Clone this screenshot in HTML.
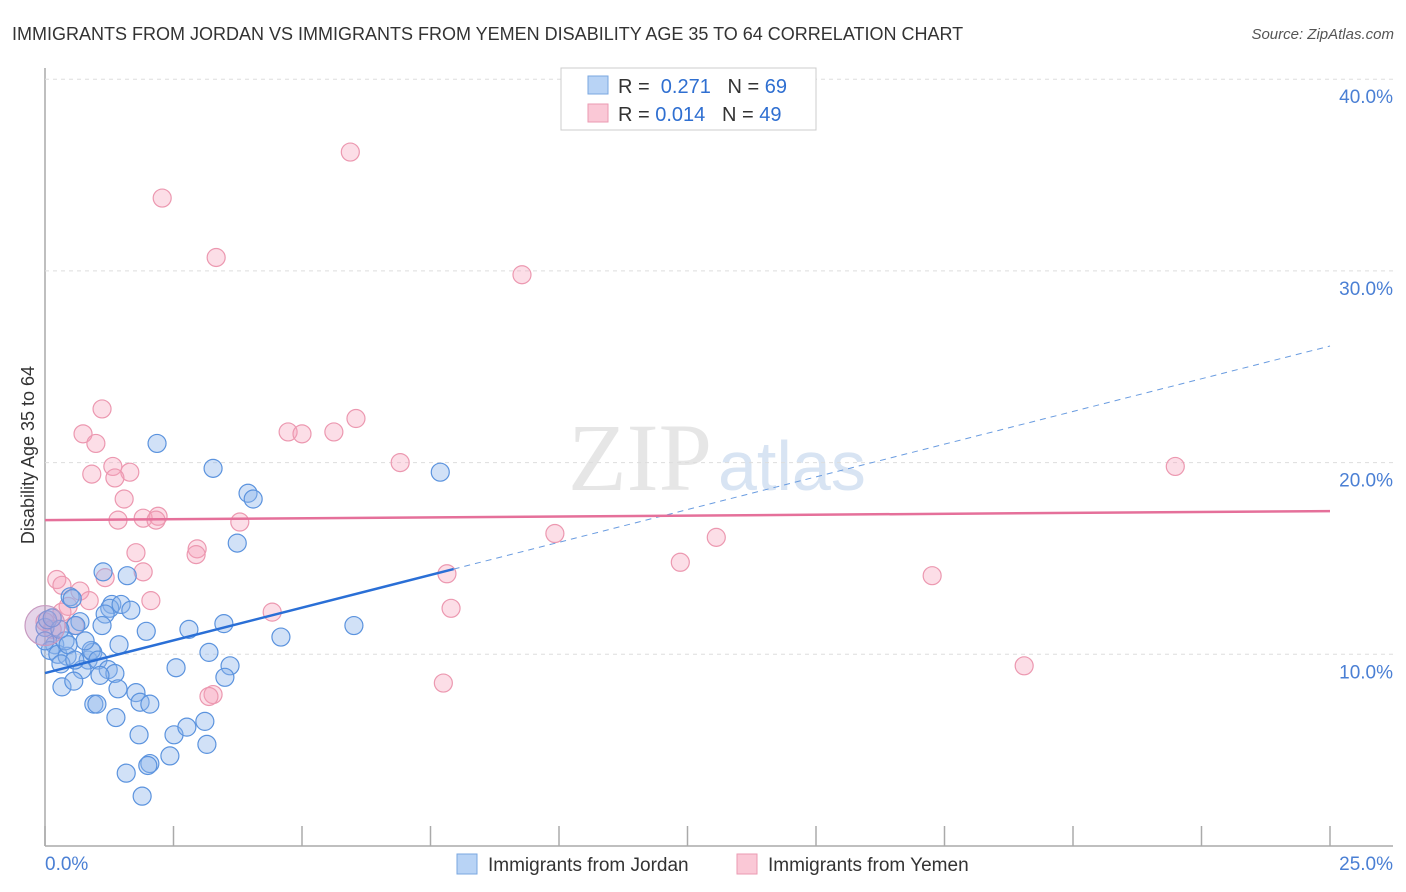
<!DOCTYPE html>
<html><head><meta charset="utf-8"><style>
body{margin:0;background:#fff;font-family:"Liberation Sans",sans-serif}
</style></head><body>
<svg id="c" width="1406" height="892" style="display:block">
<text x="12" y="40" font-size="18" fill="#333">IMMIGRANTS FROM JORDAN VS IMMIGRANTS FROM YEMEN DISABILITY AGE 35 TO 64 CORRELATION CHART</text>
<text x="1394" y="39" font-size="15" fill="#555" font-style="italic" text-anchor="end">Source: ZipAtlas.com</text>
<text x="712" y="490" font-size="96" fill="#e6e6e6" text-anchor="end" font-family="Liberation Serif">ZIP</text>
<text x="718" y="490" font-size="70" fill="#d8e4f3">atlas</text>
<text transform="translate(34,455) rotate(-90)" font-size="18" fill="#333" text-anchor="middle">Disability Age 35 to 64</text>
<g id="grid"></g><g id="pts"></g><g id="lines"></g>
<g>
<rect x="561" y="68" width="255" height="62" fill="#fff" stroke="#ccc"/>
<rect x="588" y="76" width="20" height="18" fill="#b8d3f5" stroke="#7aa7e0"/>
<rect x="588" y="104" width="20" height="18" fill="#fac8d6" stroke="#eb9ab2"/>
<text x="618" y="93" font-size="20" fill="#333">R = <tspan fill="#2f6fd1">&#160;0.271</tspan>&#160;&#160;&#160;N = <tspan fill="#2f6fd1">69</tspan></text>
<text x="618" y="121" font-size="20" fill="#333">R = <tspan fill="#2f6fd1">0.014</tspan>&#160;&#160;&#160;N = <tspan fill="#2f6fd1">49</tspan></text>
</g>
<g>
<rect x="457" y="854" width="20" height="20" fill="#b8d3f5" stroke="#7aa7e0"/>
<text x="488" y="871" font-size="19" fill="#333">Immigrants from Jordan</text>
<rect x="737" y="854" width="20" height="20" fill="#fac8d6" stroke="#eb9ab2"/>
<text x="768" y="871" font-size="19" fill="#333">Immigrants from Yemen</text>
</g>
</svg>
<script>
const jordanX=[2.18,3.27,7.69,3.95,4.05,3.74,1.13,1.60,0.49,1.30,1.26,1.48,1.67,1.17,0.68,0.60,1.11,1.97,2.80,3.48,6.01,4.59,0,0.19,0.10,0.25,0.43,0.31,0.84,0.93,0.90,1.03,1.44,3.19,2.55,3.60,0.72,1.23,1.36,1.07,3.50,0.33,0.56,1.42,1.77,1.85,2.04,0.95,1.01,1.38,3.11,2.51,2.76,1.83,3.15,2.43,2.04,2.00,1.58,1.89,0.05,0,0.39,0.78,0.45,0.29,0.14,0.58,0.53];
const jordanY=[21.0,19.7,19.5,18.4,18.1,15.8,14.3,14.1,13.0,12.6,12.4,12.6,12.3,12.1,11.7,11.5,11.5,11.2,11.3,11.6,11.5,10.9,11.4,10.5,10.2,10.0,9.9,9.5,9.7,10.1,10.2,9.7,10.5,10.1,9.3,9.4,9.2,9.2,9.0,8.9,8.8,8.3,8.6,8.2,8.0,7.5,7.4,7.4,7.4,6.7,6.5,5.8,6.2,5.8,5.3,4.7,4.3,4.2,3.8,2.6,11.8,10.7,10.7,10.7,10.5,11.3,11.9,9.7,12.9];
const yemenX=[5.94,2.28,3.33,9.28,6.05,1.11,0.74,0.99,4.73,5.00,5.62,6.91,21.99,1.32,0.91,1.65,1.36,1.54,1.91,1.42,2.20,2.16,3.79,9.92,13.06,1.77,2.96,2.94,1.91,12.36,1.17,17.26,7.82,0.23,0.33,0.68,0.86,2.06,0.45,4.42,7.90,19.05,7.75,3.27,3.19,0,0.14,0.33,0.58];
const yemenY=[36.2,33.8,30.7,29.8,22.3,22.8,21.5,21.0,21.6,21.5,21.6,20.0,19.8,19.8,19.4,19.5,19.2,18.1,17.1,17.0,17.2,17.0,16.9,16.3,16.1,15.3,15.5,15.2,14.3,14.8,14.0,14.1,14.2,13.9,13.6,13.3,12.8,12.8,12.5,12.2,12.4,9.4,8.5,7.9,7.8,11.7,11.3,12.2,11.5];
const yTicks=[10,20,30,40];
const yTickLabels=["10.0%","20.0%","30.0%","40.0%"];
const xTicks=[0,2.5,5,7.5,10,12.5,15,17.5,20,22.5,25];
const jordanFit=[9.02,26.08]; // y at x=0, x=25
const jordanSolidEnd=7.95;
const yemenFit=[17.0,17.47];
const X=v=>45+v/25*1285, Y=v=>846-v*19.17;
const NS="http://www.w3.org/2000/svg";
function mk(p,t,a){const e=document.createElementNS(NS,t);for(const k in a)e.setAttribute(k,a[k]);p.appendChild(e);return e;}
const g=document.getElementById('grid');
let ax=mk(g,'line',{x1:45,y1:68,x2:45,y2:846,stroke:'#aaa','stroke-width':1.5});

let bx=mk(g,'line',{x1:45,y1:846,x2:1393,y2:846,stroke:'#aaa','stroke-width':1.5});

yTicks.forEach((t,i)=>{
 const l=mk(g,'line',{x1:45,y1:Y(t),x2:1393,y2:Y(t),stroke:'#ddd','stroke-dasharray':'4,4'});
 
 const tx=mk(g,'text',{x:1393,y:Y(t)+24,'font-size':19,fill:'#4a7fd4','text-anchor':'end'});tx.textContent=yTickLabels[i];
 
});
xTicks.forEach(t=>{const l=mk(g,'line',{x1:X(t),y1:826,x2:X(t),y2:846,stroke:'#aaa','stroke-width':1.5});
 });
let x0=mk(g,'text',{x:45,y:870,'font-size':19,fill:'#4a7fd4'});x0.textContent='0.0%';

let x1=mk(g,'text',{x:1393,y:870,'font-size':19,fill:'#4a7fd4','text-anchor':'end'});x1.textContent='25.0%';

const p=document.getElementById('pts');
yemenX.forEach((x,i)=>{const c=mk(p,'circle',{cx:X(x),cy:Y(yemenY[i]),r:9,fill:'rgba(245,160,185,0.35)',stroke:'#ec98b0','stroke-width':1.2});
 });
jordanX.forEach((x,i)=>{const c=mk(p,'circle',{cx:X(x),cy:Y(jordanY[i]),r:9,fill:'rgba(140,180,235,0.4)',stroke:'#5b93de','stroke-width':1.2});
 });
const big=mk(p,'circle',{cx:X(0),cy:Y(11.5),r:20,fill:'rgba(190,150,200,0.4)',stroke:'#c89ac0','stroke-width':1.2});

const L=document.getElementById('lines');
const jf=x=>jordanFit[0]+(jordanFit[1]-jordanFit[0])*x/25;
let a=mk(L,'line',{x1:X(0),y1:Y(jf(0)),x2:X(jordanSolidEnd),y2:Y(jf(jordanSolidEnd)),stroke:'#2a6fd6','stroke-width':2.5});

let b=mk(L,'line',{x1:X(jordanSolidEnd),y1:Y(jf(jordanSolidEnd)),x2:X(25),y2:Y(jf(25)),stroke:'#6a9ce0','stroke-width':1,'stroke-dasharray':'6,5'});

let c=mk(L,'line',{x1:X(0),y1:Y(yemenFit[0]),x2:X(25),y2:Y(yemenFit[1]),stroke:'#e5709a','stroke-width':2.5});

</script>
</body></html>
